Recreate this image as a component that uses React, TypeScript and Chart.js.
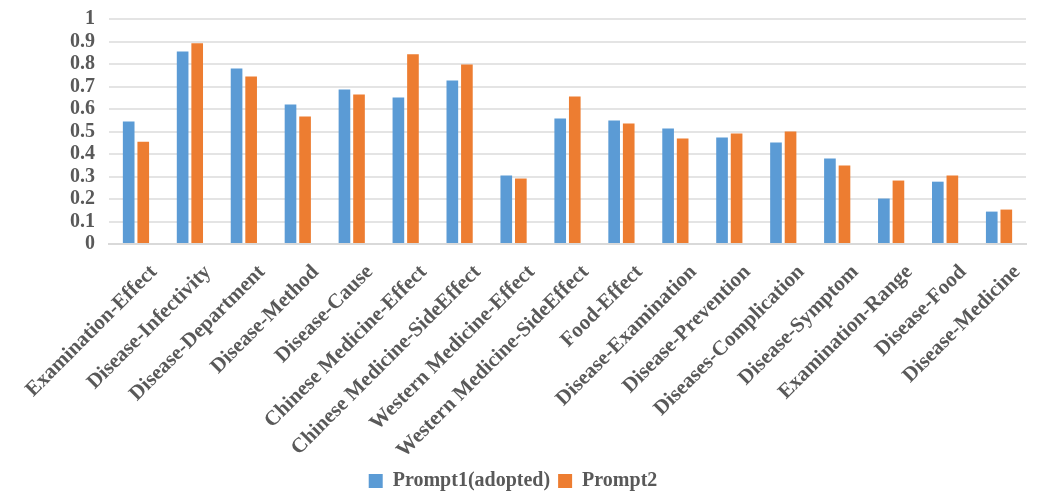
import { useEffect, useRef } from 'react';
import { Chart, registerables } from 'chart.js';

Chart.register(...registerables);

const categories = [
  'Examination-Effect',
  'Disease-Infectivity',
  'Disease-Department',
  'Disease-Method',
  'Disease-Cause',
  'Chinese Medicine-Effect',
  'Chinese Medicine-SideEffect',
  'Western Medicine-Effect',
  'Western Medicine-SideEffect',
  'Food-Effect',
  'Disease-Examination',
  'Disease-Prevention',
  'Diseases-Complication',
  'Disease-Symptom',
  'Examination-Range',
  'Disease-Food',
  'Disease-Medicine',
];

const prompt1 = [0.545, 0.856, 0.78, 0.62, 0.687, 0.651, 0.727, 0.304, 0.558, 0.549, 0.513, 0.473, 0.451, 0.38, 0.202, 0.277, 0.144];
const prompt2 = [0.455, 0.892, 0.745, 0.567, 0.665, 0.843, 0.798, 0.291, 0.656, 0.536, 0.469, 0.491, 0.5, 0.349, 0.282, 0.304, 0.153];

const seriesNames = ['Prompt1(adopted)', 'Prompt2'];

const FONT = '"Liberation Serif", "Times New Roman", serif';
const TEXT = '#595959';

export default function App() {
  const chartRef = useRef<HTMLCanvasElement>(null);

  useEffect(() => {
    if (!chartRef.current) return;

    const chart = new Chart(chartRef.current, {
      type: 'bar',
      data: {
        labels: categories,
        datasets: [
          {
            label: seriesNames[0],
            data: prompt1,
            backgroundColor: '#5B9BD5',
            barPercentage: 0.8,
            categoryPercentage: 0.54,
          },
          {
            label: seriesNames[1],
            data: prompt2,
            backgroundColor: '#ED7D31',
            barPercentage: 0.8,
            categoryPercentage: 0.54,
          },
        ],
      },
      options: {
        responsive: true,
        maintainAspectRatio: false,
        animation: false,
        layout: { padding: { top: 0, right: 23, bottom: 2, left: 0 } },
        plugins: {
          tooltip: { enabled: false },
          legend: {
            position: 'bottom',
            labels: {
              boxWidth: 14,
              boxHeight: 14,
              padding: 8,
              color: TEXT,
              font: { family: FONT, size: 20, weight: 'bold' },
            },
          },
        },
        scales: {
          x: {
            // ticks hidden, tickLength used only as label gap
            grid: { color: 'transparent', tickColor: 'transparent', drawTicks: true, tickLength: 16 },
            border: { color: '#d9d9d9', width: 2 },
            afterFit: (scale: any) => {
              scale.height = 219;
            },
            ticks: {
              autoSkip: false,
              minRotation: 45,
              maxRotation: 45,
              padding: 0,
              labelOffset: 18,
              color: TEXT,
              font: { family: FONT, size: 21, weight: 'bold' },
            },
          },
          y: {
            min: 0,
            max: 1,
            border: { display: false },
            grid: { color: '#e4e4e4', lineWidth: 2, drawTicks: true, tickLength: 7, tickColor: 'transparent' },
            afterFit: (scale: any) => {
              scale.width = 109;
            },
            ticks: {
              stepSize: 0.1,
              autoSkip: false,
              padding: 7,
              color: TEXT,
              font: { family: FONT, size: 20, weight: 'bold' },
              callback: (v: any) => String(Number(Number(v).toFixed(1))),
            },
          },
        },
      },
    });

    return () => chart.destroy();
  }, []);

  return (
    <div style={{ position: 'fixed', left: 0, top: 0, width: 1049, height: 503, background: '#fff' }}>
      <canvas ref={chartRef} />
    </div>
  );
}
